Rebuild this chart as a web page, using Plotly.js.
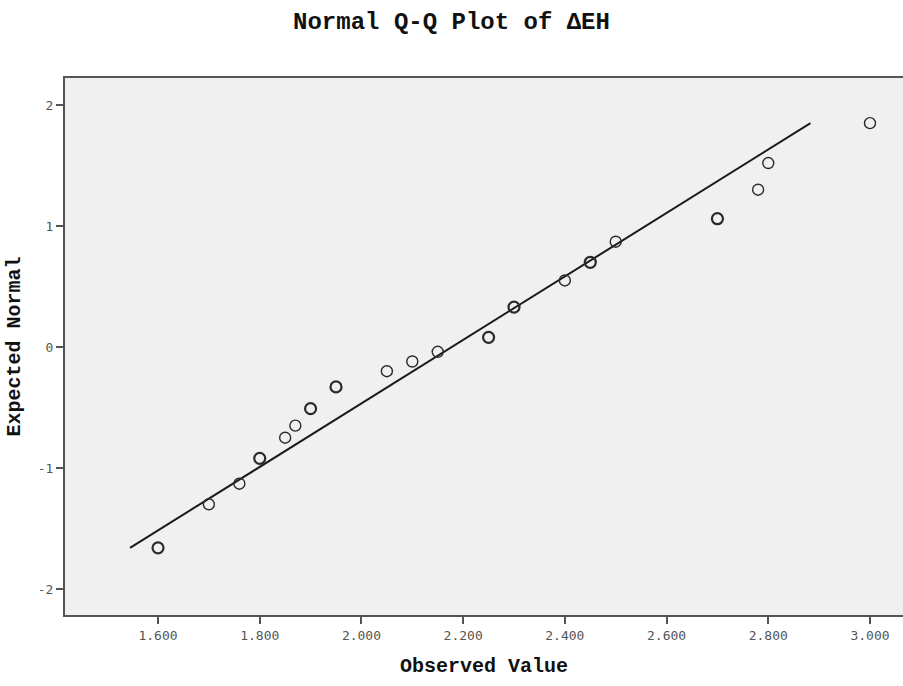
<!DOCTYPE html>
<html>
<head>
<meta charset="utf-8">
<script src="https://cdn.plot.ly/plotly-3.0.1.min.js"></script>
<style>
  html, body { margin: 0; padding: 0; background: #ffffff; }
  #chart { width: 903px; height: 686px; }
</style>
</head>
<body>
<div id="chart"></div>
<script>
// Observed ΔEH values (distinct values) and their expected normal scores
const observedValues = [1.600, 1.700, 1.760, 1.800, 1.850, 1.870, 1.900, 1.950, 2.050, 2.100,
                        2.150, 2.250, 2.300, 2.400, 2.450, 2.500, 2.700, 2.780, 2.800, 3.000];
const expectedNormal = [-1.66, -1.30, -1.13, -0.92, -0.75, -0.65, -0.51, -0.33, -0.20, -0.12,
                        -0.04, 0.08, 0.33, 0.55, 0.70, 0.87, 1.06, 1.30, 1.52, 1.85];
// How many cases share each observed value (tied cases overprint as heavier circles)
const caseCounts = [2, 1, 1, 2, 1, 1, 2, 2, 1, 1,
                    1, 2, 4, 1, 2, 1, 2, 1, 1, 1];

// Reference normal line endpoints
const lineX = [1.545, 2.883];
const lineY = [-1.66, 1.85];

// Axis ticks
const xTicks = [1.6, 1.8, 2.0, 2.2, 2.4, 2.6, 2.8, 3.0];
const xTickLabels = ["1.600", "1.800", "2.000", "2.200", "2.400", "2.600", "2.800", "3.000"];
const yTicks = [-2, -1, 0, 1, 2];
const yTickLabels = ["-2", "-1", "0", "1", "2"];

const monoBold = "'Liberation Mono', 'Courier New', monospace";
const tickFont = { family: "'DejaVu Sans Mono', monospace", size: 13, color: "#555555" };

const traces = [
  {
    type: "scatter",
    mode: "lines",
    x: lineX,
    y: lineY,
    line: { color: "#1a1a1a", width: 2 },
    hoverinfo: "skip",
    showlegend: false
  },
  {
    type: "scatter",
    mode: "markers",
    x: observedValues,
    y: expectedNormal,
    marker: {
      symbol: "circle-open",
      size: 11,
      color: "#2a2a2a",
      line: { color: "#2a2a2a", width: caseCounts.map(c => (c > 1 ? 2.2 : 1.4)) }
    },
    showlegend: false
  }
];

const layout = {
  width: 903,
  height: 686,
  margin: { l: 65, r: 0, t: 78, b: 71 },
  paper_bgcolor: "#ffffff",
  plot_bgcolor: "#f0f0f0",
  showlegend: false,
  title: {
    text: "Normal Q-Q Plot of ΔEH",
    font: { family: monoBold, size: 24, color: "#111111", weight: "bold" },
    x: 0.5,
    xanchor: "center",
    xref: "container",
    y: 0.97,
    yref: "container",
    yanchor: "middle"
  },
  xaxis: {
    range: [1.4171, 3.0649],
    tickvals: xTicks,
    ticktext: xTickLabels,
    ticks: "outside",
    ticklen: 7,
    tickwidth: 2,
    tickcolor: "#555555",
    tickfont: tickFont,
    showgrid: false,
    zeroline: false,
    showline: true,
    linecolor: "#555555",
    linewidth: 2,
    mirror: true,
    title: {
      text: "Observed Value",
      font: { family: monoBold, size: 20, color: "#111111", weight: "bold" },
      standoff: 16
    }
  },
  yaxis: {
    range: [-2.215, 2.223],
    tickvals: yTicks,
    ticktext: yTickLabels,
    ticks: "outside",
    ticklen: 7,
    tickwidth: 2,
    tickcolor: "#555555",
    tickfont: tickFont,
    showgrid: false,
    zeroline: false,
    showline: true,
    linecolor: "#555555",
    linewidth: 2,
    mirror: false,
    title: {
      text: "Expected Normal",
      font: { family: monoBold, size: 20, color: "#111111", weight: "bold" },
      standoff: 12
    }
  }
};

Plotly.newPlot("chart", traces, layout, { displayModeBar: false, staticPlot: true });
</script>
</body>
</html>
